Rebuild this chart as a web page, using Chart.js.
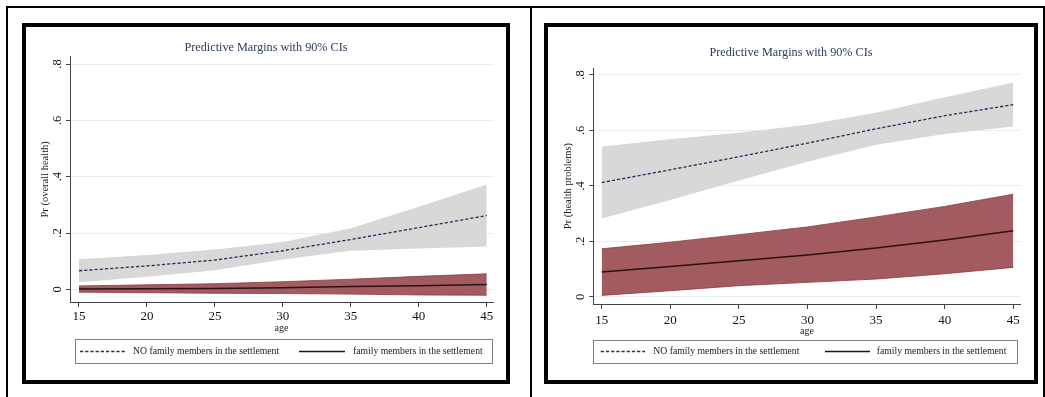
<!DOCTYPE html>
<html><head><meta charset="utf-8">
<script src="https://cdn.jsdelivr.net/npm/chart.js@4.4.1/dist/chart.umd.min.js"></script>
<style>
html,body{margin:0;padding:0;background:#fff;width:1045px;height:397px;overflow:hidden;position:relative;}
.outer{position:absolute;left:6px;top:6px;width:1035px;height:420px;border:2px solid #000;border-bottom:none;}
.divider{position:absolute;left:530px;top:6px;width:2px;height:420px;background:#000;}
.frame{position:absolute;border:4px solid #000;background:#fff;box-sizing:border-box;}
.box{position:absolute;}
</style></head><body>
<div class="outer"></div><div class="divider"></div>
<div class="frame" style="left:22px;top:23px;width:488px;height:361px;"></div>
<div class="box" style="left:26px;top:27px;width:480px;height:353px;"><canvas id="c1"></canvas></div>
<div class="frame" style="left:544px;top:23px;width:494px;height:361px;"></div>
<div class="box" style="left:548px;top:27px;width:486px;height:353px;"><canvas id="c2"></canvas></div>
<script>
// ---- shared labels / ticks ----
const ages = [15, 20, 25, 30, 35, 40, 45];
const seriesNames = ['NO family members in the settlement', 'family members in the settlement'];
const titleText = 'Predictive Margins with 90% CIs';
const xTitle = 'age';
const xTickValues = [15, 20, 25, 30, 35, 40, 45];
const yTickValues = [0, 0.2, 0.4, 0.6, 0.8];
const yTickLabels = ['0', '.2', '.4', '.6', '.8'];

// ---- panel 1: overall health ----
const overallYTitle = 'Pr (overall health)';
const overallNoFam   = [0.066, 0.083, 0.104, 0.137, 0.177, 0.219, 0.262];
const overallNoFamLo = [0.025, 0.045, 0.068, 0.106, 0.137, 0.145, 0.152];
const overallNoFamHi = [0.107, 0.122, 0.141, 0.168, 0.217, 0.293, 0.372];
const overallFam     = [0.001, 0.002, 0.003, 0.006, 0.010, 0.013, 0.017];
const overallFamLo   = [-0.010, -0.012, -0.014, -0.015, -0.017, -0.020, -0.021];
const overallFamHi   = [0.012, 0.016, 0.020, 0.027, 0.036, 0.046, 0.055];

// ---- panel 2: health problems ----
const problemsYTitle = 'Pr (health problems)';
const problemsNoFam   = [0.412, 0.458, 0.505, 0.554, 0.606, 0.653, 0.693];
const problemsNoFamLo = [0.282, 0.349, 0.419, 0.487, 0.548, 0.587, 0.614];
const problemsNoFamHi = [0.542, 0.568, 0.592, 0.620, 0.664, 0.720, 0.773];
const problemsFam     = [0.089, 0.109, 0.130, 0.151, 0.176, 0.205, 0.238];
const problemsFamLo   = [0.005, 0.022, 0.040, 0.052, 0.064, 0.083, 0.106];
const problemsFamHi   = [0.173, 0.197, 0.224, 0.252, 0.288, 0.326, 0.370];

const SERIF = "'Liberation Serif','Times New Roman',serif";
const pts = arr => ages.map((a, i) => ({x: a, y: arr[i]}));

const titlePlugin = {
  id: 'stataTitle',
  afterDraw(chart, args, o) {
    const ctx = chart.ctx; ctx.save();
    ctx.font = o.size + 'px ' + SERIF; ctx.fillStyle = o.color;
    ctx.textAlign = 'center'; ctx.textBaseline = 'middle';
    ctx.fillText(o.text, chart.width / 2, o.y);
    ctx.restore();
  }
};
const legendPlugin = {
  id: 'stataLegend',
  afterDraw(chart, args, o) {
    const ctx = chart.ctx; ctx.save();
    const b = o.box;
    ctx.strokeStyle = o.borderColor; ctx.lineWidth = 1;
    ctx.strokeRect(Math.round(b[0]) + 0.5, Math.round(b[1]) + 0.5, Math.round(b[2] - b[0]), Math.round(b[3] - b[1]));
    const cy = Math.round((b[1] + b[3]) / 2) + 0.5;
    o.items.forEach(it => {
      const ds = chart.data.datasets[it.ds];
      ctx.setLineDash(ds.borderDash || []);
      ctx.strokeStyle = ds.borderColor; ctx.lineWidth = ds.borderWidth;
      ctx.beginPath(); ctx.moveTo(it.x1, cy); ctx.lineTo(it.x2, cy); ctx.stroke();
      ctx.setLineDash([]);
      ctx.fillStyle = o.color; ctx.font = o.size + 'px ' + SERIF;
      ctx.textAlign = 'left'; ctx.textBaseline = 'middle';
      ctx.fillText(ds.label, it.tx, cy);
    });
    ctx.restore();
  }
};

function makeChart(id, d, g) {
  const datasets = [
    {label: seriesNames[0], data: pts(d.noFam), borderColor: '#1f3458', borderWidth: 1.3, borderDash: [3.2, 2], pointRadius: 0, fill: false},
    {label: seriesNames[1], data: pts(d.fam), borderColor: '#2a1214', borderWidth: 1.5, pointRadius: 0, fill: false},
    {label: 'famLo', data: pts(d.famLo), borderColor: '#8c3a40', borderWidth: 0.8, pointRadius: 0, fill: false},
    {label: 'famHi', data: pts(d.famHi), borderColor: '#8c3a40', borderWidth: 0.8, pointRadius: 0, fill: 2, backgroundColor: '#a25b60'},
    {label: 'noFamLo', data: pts(d.noFamLo), borderColor: 'rgba(0,0,0,0)', borderWidth: 0, pointRadius: 0, fill: false},
    {label: 'noFamHi', data: pts(d.noFamHi), borderColor: 'rgba(0,0,0,0)', borderWidth: 0, pointRadius: 0, fill: 4, backgroundColor: '#d8d8d8'}
  ];
  return new Chart(document.getElementById(id), {
    type: 'line',
    data: {datasets},
    plugins: [titlePlugin, legendPlugin],
    options: {
      responsive: true, maintainAspectRatio: false, animation: false, devicePixelRatio: 1,
      events: [],
      layout: {padding: {left: 0, top: g.padTop, right: g.padRight, bottom: 0}},
      elements: {line: {tension: 0}},
      plugins: {
        legend: {display: false}, tooltip: {enabled: false}, title: {display: false},
        stataTitle: {text: titleText, y: g.titleY, size: 12.2, color: '#2c3d60'},
        stataLegend: {box: g.legendBox, items: g.legendItems, size: 9.7, color: '#222', borderColor: '#808080'}
      },
      scales: {
        x: {
          type: 'linear', min: g.xMin, max: g.xMax,
          afterBuildTicks: s => { s.ticks = xTickValues.map(v => ({value: v})); },
          afterFit: s => { s.height = g.xAxisH; },
          ticks: {font: {family: SERIF, size: 13}, color: '#111', padding: g.xTickPad, maxRotation: 0, autoSkip: false},
          grid: {drawOnChartArea: false, drawTicks: true, tickLength: 5, tickColor: '#444', tickWidth: 1},
          border: {display: true, color: '#444', width: 1},
          title: {display: true, text: xTitle, font: {family: SERIF, size: 10}, color: '#222', padding: {top: 0, bottom: g.xTitlePad}}
        },
        y: {
          type: 'linear', min: g.yMin, max: g.yMax,
          afterBuildTicks: s => { s.ticks = yTickValues.map(v => ({value: v})); },
          afterFit: s => { s.width = g.yAxisW; },
          ticks: {
            font: {family: SERIF, size: 12.5}, color: '#111', padding: 4, minRotation: 90, maxRotation: 90,
            crossAlign: 'center', autoSkip: false,
            callback: v => { const i = yTickValues.findIndex(t => Math.abs(t - v) < 1e-9); return i >= 0 ? yTickLabels[i] : ''; }
          },
          grid: {drawOnChartArea: true, color: '#e9eef0', lineWidth: 1, drawTicks: true, tickLength: 4, tickColor: '#444', tickWidth: 1},
          border: {display: true, color: '#444', width: 1},
          title: {display: true, text: d.yTitle, font: {family: SERIF, size: 10.5}, color: '#222', padding: {top: g.yTitlePad, bottom: 0}}
        }
      }
    }
  });
}

makeChart('c1',
  {yTitle: overallYTitle, noFam: overallNoFam, noFamLo: overallNoFamLo, noFamHi: overallNoFamHi, fam: overallFam, famLo: overallFamLo, famHi: overallFamHi},
  {padTop: 29.7, padRight: 13, xAxisH: 78, yAxisW: 44, xMin: 14.34, xMax: 45.46, yMin: -0.045, yMax: 0.826,
   titleY: 20.5, xTickPad: 1.9, xTitlePad: 45.7, yTitlePad: 12.7,
   legendBox: [49, 312.3, 466, 336.3],
   legendItems: [{ds: 0, x1: 54, x2: 99, tx: 107}, {ds: 1, x1: 273, x2: 319, tx: 327}]});

makeChart('c2',
  {yTitle: problemsYTitle, noFam: problemsNoFam, noFamLo: problemsNoFamLo, noFamHi: problemsNoFamHi, fam: problemsFam, famLo: problemsFamLo, famHi: problemsFamHi},
  {padTop: 41.3, padRight: 13.3, xAxisH: 76, yAxisW: 45.3, xMin: 14.39, xMax: 45.54, yMin: -0.026, yMax: 0.824,
   titleY: 26, xTickPad: 4.2, xTitlePad: 42.3, yTitlePad: 13.7,
   legendBox: [45.3, 313, 469.7, 335.7],
   legendItems: [{ds: 0, x1: 52.7, x2: 97, tx: 105.3}, {ds: 1, x1: 277, x2: 322, tx: 328.7}]});
</script>
</body></html>
